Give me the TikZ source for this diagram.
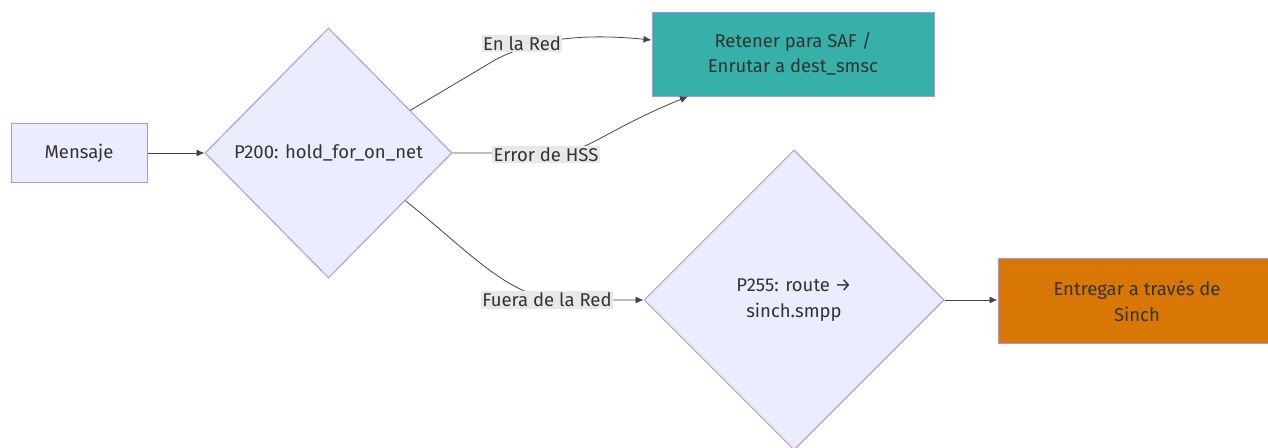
\documentclass[tikz,border=0pt]{standalone}
\usepackage{fontspec}
\setmainfont{Fira Sans}
\usetikzlibrary{shapes.geometric,arrows.meta,calc}
\definecolor{nodefill}{HTML}{ECECFF}
\definecolor{nodeborder}{HTML}{A995E6}
\definecolor{tealfill}{HTML}{36B0A9}
\definecolor{orangefill}{HTML}{D97706}
\definecolor{txt}{HTML}{333333}
\definecolor{edgecol}{HTML}{444444}
\definecolor{lblbg}{HTML}{E8E8E8}
\begin{document}
\begin{tikzpicture}[x=1pt,y=-1pt,
  every node/.style={font=\fontsize{18.5}{25.5}\selectfont, text=txt},
  box/.style={draw=nodeborder, line width=1pt, fill=nodefill, inner sep=0pt, align=center},
  dia/.style={diamond, aspect=1, draw=nodeborder, line width=1pt, fill=nodefill, inner sep=0pt, align=center},
  edge/.style={draw=edgecol, line width=0.8pt, -{Latex[length=8pt,width=7pt]}},
  lbl/.style={fill=lblbg, inner sep=1.5pt, text=txt}]
\useasboundingbox (0,0) rectangle (1268,447);
\node[box, minimum width=136pt, minimum height=59pt] (msg) at (79,153) {Mensaje};
\node[dia, minimum width=247pt, minimum height=250pt] (p200) at (328.5,153) {P200: hold\_for\_on\_net};
\node[box, fill=tealfill, minimum width=282pt, minimum height=84pt] (ret) at (793,54) {Retener para SAF /\\Enrutar a dest\_smsc};
\node[dia, minimum width=300pt, minimum height=300pt] (p255) at (794,300) {P255: route →\\sinch.smpp};
\node[box, fill=orangefill, minimum width=278pt, minimum height=85pt] (ent) at (1137,301) {Entregar a través de\\Sinch};

\draw[edge] (msg.east) -- (p200.west);
\draw[edge] ($(p200.north)!0.66!(p200.east)$) -- (495,60) .. controls (540,36) and (590,34) .. (ret.west |- 0,40);
\draw[edge] (p200.east) -- (560,153) .. controls (590,150) and (610,128) .. (ret.south west -| 688,0);
\draw[edge] ($(p200.south)!0.62!(p200.east)$) .. controls (470,252) and (510,300) .. (565,300) -- (p255.west);
\draw[edge] (p255.east) -- (p255.east -| ent.west);

\node[lbl] (l1) at (522,43.5) {En la Red};
\node[lbl] (l2) at (546,154.5) {Error de HSS};
\node[lbl] (l3) at (547,300) {Fuera de la Red};
\end{tikzpicture}
\end{document}
